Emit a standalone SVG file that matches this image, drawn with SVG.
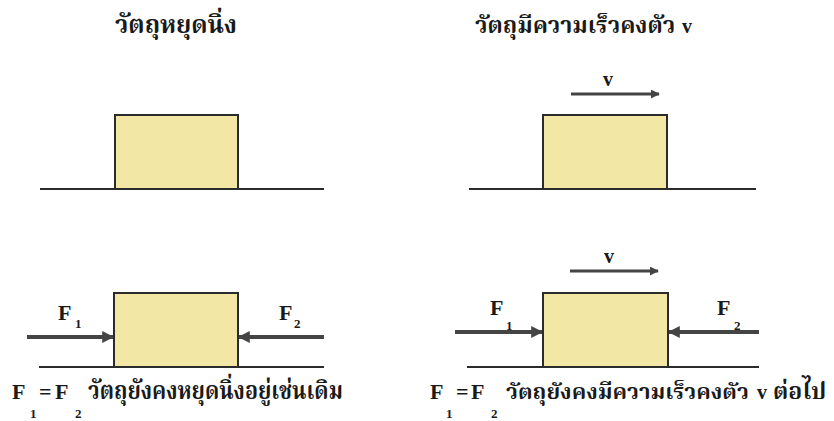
<svg xmlns="http://www.w3.org/2000/svg" width="834" height="421" viewBox="0 0 834 421">
<defs>
<marker id="ah" viewBox="0 0 10 10" refX="9" refY="5" markerWidth="3" markerHeight="3" orient="auto" markerUnits="strokeWidth">
<path d="M0,0 L10,5 L0,10 z" fill="#444"/>
</marker>
<style>
.box{fill:#f3e7a6;stroke:#2b2b2b;stroke-width:2}
.ground{stroke:#2b2b2b;stroke-width:2;fill:none}
.force{stroke:#444;stroke-width:4;fill:none;marker-end:url(#ah)}
.vel{stroke:#444;stroke-width:3;fill:none;marker-end:url(#ah)}
.th{font-family:"Noto Serif Thai","Noto Sans Thai","Liberation Serif",serif;font-weight:bold;fill:#1a1a1a}
.lat{font-family:"Liberation Serif",serif;font-weight:bold;fill:#1a1a1a}
</style>
</defs>
<rect width="834" height="421" fill="#ffffff"/>
<g id="titles">
<text class="th" x="115" y="33" font-size="24" textLength="122" lengthAdjust="spacingAndGlyphs">วัตถุหยุดนิ่ง</text>
<text class="th" x="475" y="33" font-size="23">วัตถุมีความเร็วคงตัว</text>
<text class="lat" x="682" y="33" font-size="20">v</text>
</g>
<g id="grounds">
<line class="ground" x1="40" y1="189" x2="324" y2="189"/>
<line class="ground" x1="469" y1="189" x2="756" y2="189"/>
<line class="ground" x1="39" y1="367" x2="324" y2="367"/>
<line class="ground" x1="467" y1="367" x2="759" y2="367"/>
</g>
<g id="box-rest-top"><rect class="box" x="115" y="115" width="123" height="74"/></g>
<g id="box-move-top"><rect class="box" x="543" y="115" width="124" height="74"/></g>
<g id="box-rest-bottom"><rect class="box" x="114" y="293" width="124" height="74"/></g>
<g id="box-move-bottom"><rect class="box" x="543" y="293" width="125" height="74"/></g>
<g id="connectors">
<line class="vel" x1="571" y1="94" x2="659" y2="94"/>
<line class="vel" x1="570" y1="271" x2="658" y2="271"/>
<line class="force" x1="27" y1="337" x2="113" y2="337"/>
<line class="force" x1="324" y1="337" x2="239" y2="337"/>
<line class="force" x1="455" y1="332" x2="542" y2="332"/>
<line class="force" x1="759" y1="332" x2="669" y2="332"/>
</g>
<g id="labels">
<text class="lat" x="603" y="86" font-size="20">v</text>
<text class="lat" x="604" y="263" font-size="20">v</text>
<text class="lat" x="58" y="320" font-size="22">F</text>
<text class="lat" x="75" y="328" font-size="13">1</text>
<text class="lat" x="279" y="320" font-size="22">F</text>
<text class="lat" x="294" y="328" font-size="13">2</text>
<text class="lat" x="490" y="315" font-size="22">F</text>
<text class="lat" x="506" y="330" font-size="13">1</text>
<text class="lat" x="717" y="315" font-size="22">F</text>
<text class="lat" x="734" y="330" font-size="13">2</text>
</g>
<g id="caption-left">
<text class="lat" x="12" y="399" font-size="22">F</text>
<text class="lat" x="30" y="418" font-size="13">1</text>
<text class="lat" x="39" y="399" font-size="22">=</text>
<text class="lat" x="55" y="399" font-size="22">F</text>
<text class="lat" x="75" y="418" font-size="13">2</text>
<text class="th" x="88" y="399" font-size="24" textLength="255" lengthAdjust="spacingAndGlyphs">วัตถุยังคงหยุดนิ่งอยู่เช่นเดิม</text>
</g>
<g id="caption-right">
<text class="lat" x="430" y="399" font-size="22">F</text>
<text class="lat" x="446" y="418" font-size="13">1</text>
<text class="lat" x="456" y="399" font-size="22">=</text>
<text class="lat" x="471" y="399" font-size="22">F</text>
<text class="lat" x="491" y="418" font-size="13">2</text>
<text class="th" x="506" y="399" font-size="22">วัตถุยังคงมีความเร็วคงตัว</text>
<text class="lat" x="757" y="399" font-size="20">v</text>
<text class="th" x="773" y="399" font-size="23">ต่อไป</text>
</g>
</svg>
